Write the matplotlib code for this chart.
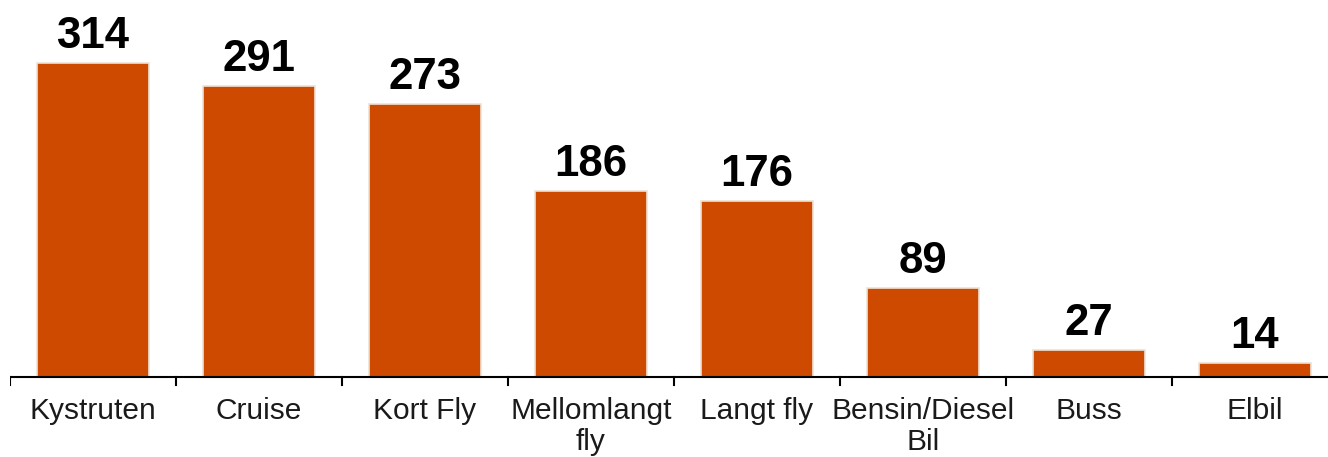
import matplotlib
matplotlib.use("Agg")
import matplotlib.pyplot as plt
import numpy as np

categories = ["Kystruten", "Cruise", "Kort Fly", "Mellomlangt\nfly", "Langt fly",
              "Bensin/Diesel\nBil", "Buss", "Elbil"]
values = [314, 291, 273, 186, 176, 89, 27, 14]

plt.rcParams["font.family"] = ["Liberation Sans", "DejaVu Sans"]

W, H, DPI = 1328, 457, 100
fig = plt.figure(figsize=(W / DPI, H / DPI), dpi=DPI)

left_px, right_px, base_px = 10, 1328, 377
ax = fig.add_axes([left_px / W, 0, (right_px - left_px) / W, 1])

x = np.arange(len(categories))
bars = ax.bar(x, values, width=0.67, color="#CD4A00", edgecolor="#EDE3D6",
              linewidth=1.2, zorder=2)

# axis scale: one category per 166 px, one unit per px
step = 166.0
ax.set_xlim(-0.5, -0.5 + (right_px - left_px) / step)
ymax = base_px
ymin = -(H - base_px)
ax.set_ylim(ymin, ymax)

for xi, v in zip(x, values):
    ax.text(xi, v + 15, str(v), ha="center", va="baseline", fontsize=31.5,
            fontweight="bold", color="black")

# baseline
ax.axhline(0, color="black", linewidth=1.5, zorder=3)
for b in np.arange(-0.5, len(categories), 1.0):
    ax.plot([b, b], [0, -8], color="black", linewidth=1.5, zorder=3)

for xi, lab in zip(x, categories):
    ax.text(xi, -20, lab, ha="center", va="top", fontsize=21.5, color="#1a1a1a",
            linespacing=1.12)

ax.axis("off")
fig.savefig("out.png", dpi=DPI)
